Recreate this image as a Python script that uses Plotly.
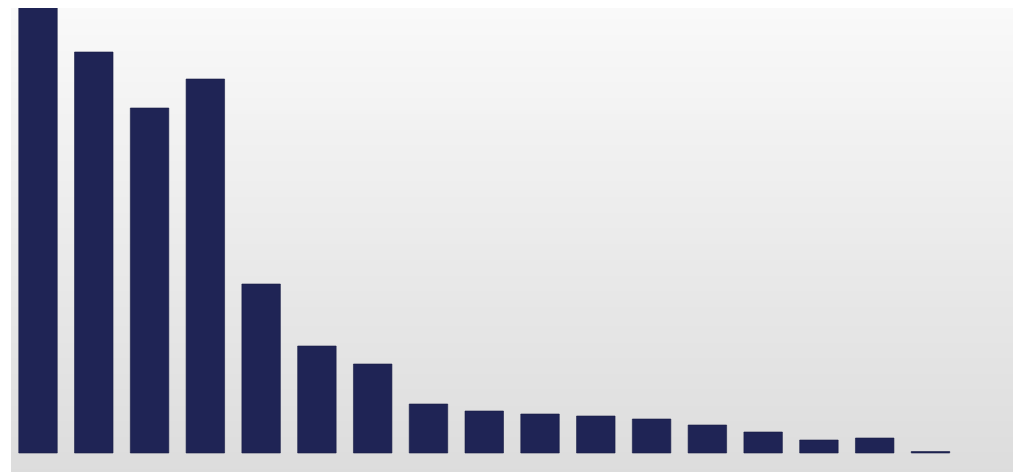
import plotly.graph_objects as go

# Data (arbitrary units)
categories = [f"C{i+1}" for i in range(17)]
values = [451, 401, 345, 374, 169, 107, 89, 49, 42, 39, 37, 34, 28, 21, 13, 15, 1.5]

BAR_COLOR = "#1f2455"
BG_TOP = (249, 249, 249)
BG_BOTTOM = (220, 220, 220)

fig = go.Figure()
fig.add_trace(go.Bar(
    x=list(range(len(categories))),
    y=values,
    marker=dict(color=BAR_COLOR, line=dict(color="#181c45", width=0.6)),
    width=0.69,
    hoverinfo="skip",
))

# Background gradient panel built from thin horizontal strips
shapes = []
n = 120
x0, x1 = 3 / 1024, 1005 / 1024
for k in range(n):
    t = k / (n - 1)
    r = round(BG_BOTTOM[0] + (BG_TOP[0] - BG_BOTTOM[0]) * t)
    g = round(BG_BOTTOM[1] + (BG_TOP[1] - BG_BOTTOM[1]) * t)
    b = round(BG_BOTTOM[2] + (BG_TOP[2] - BG_BOTTOM[2]) * t)
    shapes.append(dict(
        type="rect", xref="paper", yref="paper", layer="below",
        x0=x0, x1=x1, y0=k / n, y1=(k + 1) / n + 0.002,
        fillcolor=f"rgb({r},{g},{b})", line=dict(width=0),
    ))

fig.update_layout(
    width=1024, height=472,
    margin=dict(l=0, r=0, t=0, b=0),
    paper_bgcolor="white",
    plot_bgcolor="rgba(0,0,0,0)",
    showlegend=False,
    shapes=shapes,
    xaxis=dict(range=[-0.538, 17.820], visible=False, fixedrange=True),
    yaxis=dict(range=[-27, 445], visible=False, fixedrange=True),
)

fig.write_html("out.html")
